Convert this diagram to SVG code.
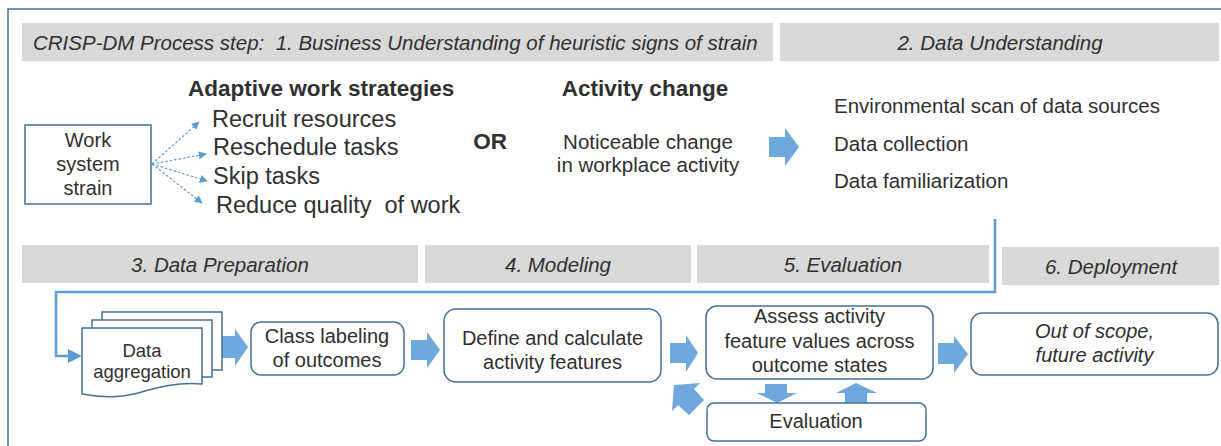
<svg xmlns="http://www.w3.org/2000/svg" width="1221" height="446" viewBox="0 0 1221 446">
  <defs>
    <style>
      text { font-family: "Liberation Sans", Arial, sans-serif; fill: #303030; }
      .pre { white-space: pre; }
      .hdr { fill: #d9d9d9; }
      .hdrtxt { font-size: 20.5px; font-style: italic; }
      .box { fill: #ffffff; stroke: #41719c; stroke-width: 1.5; }
      .blk { fill: #6fa8dc; }
      .bold { font-weight: bold; font-size: 22.5px; }
      .item { font-size: 23.5px; }
      .body { font-size: 20.5px; }
      .lbl { font-size: 20px; }
      .dash { stroke: #5b9bd5; stroke-width: 1.2; stroke-dasharray: 2.5 2; fill: none; }
      .loop { stroke: #5b9bd5; stroke-width: 2.5; fill: none; }
    </style>
    <marker id="tri" viewBox="0 0 10 10" refX="9" refY="5" markerWidth="8" markerHeight="8" markerUnits="userSpaceOnUse" orient="auto">
      <path d="M0,0 L10,5 L0,10 Z" fill="#5b9bd5"/>
    </marker>
  </defs>

  <rect width="1221" height="446" fill="#ffffff"/>

  <!-- outer frame (open on right and bottom) -->
  <path d="M8,446 V9 H1221" fill="none" stroke="#41719c" stroke-width="1.5"/>

  <!-- phase header bars -->
  <g id="phase-headers">
    <rect class="hdr" x="22" y="23" width="751" height="38"/>
    <text class="hdrtxt pre" x="33" y="50" xml:space="preserve">CRISP-DM Process step:  1. Business Understanding of heuristic signs of strain</text>
    <rect class="hdr" x="780" y="23" width="439" height="38"/>
    <text class="hdrtxt" x="1000" y="50" text-anchor="middle">2. Data Understanding</text>
    <rect class="hdr" x="22" y="245" width="396" height="38"/>
    <text class="hdrtxt" x="220" y="272" text-anchor="middle">3. Data Preparation</text>
    <rect class="hdr" x="425" y="245" width="266" height="38"/>
    <text class="hdrtxt" x="558" y="272" text-anchor="middle">4. Modeling</text>
    <rect class="hdr" x="697" y="245" width="292" height="38"/>
    <text class="hdrtxt" x="843" y="272" text-anchor="middle">5. Evaluation</text>
    <rect class="hdr" x="1002" y="247" width="217" height="38"/>
    <text class="hdrtxt" x="1111" y="274" text-anchor="middle">6. Deployment</text>
  </g>

  <!-- connectors -->
  <g id="connectors">
    <line class="dash" x1="152" y1="164" x2="199" y2="122" marker-end="url(#tri)"/>
    <line class="dash" x1="152" y1="164" x2="206" y2="154" marker-end="url(#tri)"/>
    <line class="dash" x1="152" y1="164" x2="207" y2="181" marker-end="url(#tri)"/>
    <line class="dash" x1="152" y1="164" x2="202" y2="203" marker-end="url(#tri)"/>
    <path class="loop" d="M995,219 V292 H56 V356 H72"/>
    <polygon points="68,349 82,356 68,363" fill="#5b9bd5"/>
    <!-- block arrows -->
    <polygon class="blk" points="769,137 785,137 785,128 799,147 785,166 785,157 769,157"/>
    <polygon class="blk" points="220,336 235,336 235,329 248,347 235,366 235,358 220,358"/>
    <polygon class="blk" points="411,340 427,340 427,332 440,350 427,368 427,360 411,360"/>
    <polygon class="blk" points="670,343 686,343 686,335 698,353 686,372 686,363 670,363"/>
    <polygon class="blk" points="938,343 954,343 954,336 968,354 954,373 954,364 938,364"/>
    <polygon class="blk" points="765,384 787,384 787,393 797,393 777,403 757,393 765,393"/>
    <polygon class="blk" points="856,383 877,393 867,393 867,403 845,403 845,393 836,393"/>
    <polygon class="blk" points="674,385 700,383 694,389 704,400 689,415 678,405 672,411"/>
  </g>

  <!-- step 1: business understanding -->
  <g id="work-system-strain">
    <rect class="box" x="25" y="125" width="126" height="79"/>
    <text class="lbl" x="88" y="147" text-anchor="middle">Work</text>
    <text class="lbl" x="88" y="171" text-anchor="middle">system</text>
    <text class="lbl" x="88" y="195" text-anchor="middle">strain</text>
  </g>

  <g id="adaptive-strategies">
    <text class="bold" x="188" y="96">Adaptive work strategies</text>
    <text class="item" x="212" y="127">Recruit resources</text>
    <text class="item" x="213" y="155">Reschedule tasks</text>
    <text class="item" x="213" y="184">Skip tasks</text>
    <text class="item pre" x="216" y="213" xml:space="preserve">Reduce quality  of work</text>
  </g>

  <g id="or-label">
    <text class="bold" x="490" y="149" text-anchor="middle">OR</text>
  </g>

  <g id="activity-change">
    <text class="bold" x="645" y="96" text-anchor="middle">Activity change</text>
    <text class="body" x="648" y="149" text-anchor="middle">Noticeable change</text>
    <text class="body" x="648" y="172" text-anchor="middle">in workplace activity</text>
  </g>

  <!-- step 2: data understanding -->
  <g id="data-understanding">
    <text class="body" x="834" y="113">Environmental scan of data sources</text>
    <text class="body" x="834" y="151">Data collection</text>
    <text class="body" x="834" y="188">Data familiarization</text>
  </g>

  <!-- step 3: data preparation -->
  <g id="data-aggregation">
    <rect class="box" x="102" y="312" width="120" height="58"/>
    <rect class="box" x="92" y="320" width="120" height="57"/>
    <path class="box" d="M82,328 H202 V384 C178,382 158,387 138,393 C116,399 98,397 82,394 Z"/>
    <text class="lbl" x="142" y="357" text-anchor="middle" style="font-size:18.5px">Data</text>
    <text class="lbl" x="142" y="378" text-anchor="middle" style="font-size:18.5px">aggregation</text>
  </g>

  <g id="class-labeling">
    <rect class="box" x="251" y="322" width="153" height="53" rx="10"/>
    <text class="lbl" x="327" y="343" text-anchor="middle">Class labeling</text>
    <text class="lbl" x="327" y="367" text-anchor="middle">of outcomes</text>
  </g>

  <!-- step 4: modeling -->
  <g id="define-features">
    <rect class="box" x="444" y="309" width="217" height="73" rx="12"/>
    <text class="lbl" x="552.5" y="345" text-anchor="middle">Define and calculate</text>
    <text class="lbl" x="552.5" y="369" text-anchor="middle">activity features</text>
  </g>

  <!-- step 5: evaluation -->
  <g id="assess-features">
    <rect class="box" x="706" y="306" width="227" height="73" rx="11"/>
    <text class="lbl" x="819.5" y="323" text-anchor="middle">Assess activity</text>
    <text class="lbl" x="819.5" y="348" text-anchor="middle">feature values across</text>
    <text class="lbl" x="819.5" y="372" text-anchor="middle">outcome states</text>
  </g>

  <g id="evaluation">
    <rect class="box" x="707" y="403" width="219" height="38" rx="7"/>
    <text class="lbl" x="816" y="428" text-anchor="middle">Evaluation</text>
  </g>

  <!-- step 6: deployment -->
  <g id="deployment">
    <rect class="box" x="971" y="313" width="247" height="62" rx="11"/>
    <text class="lbl" x="1094.5" y="338" text-anchor="middle" font-style="italic">Out of scope,</text>
    <text class="lbl" x="1094.5" y="362" text-anchor="middle" font-style="italic">future activity</text>
  </g>
</svg>
